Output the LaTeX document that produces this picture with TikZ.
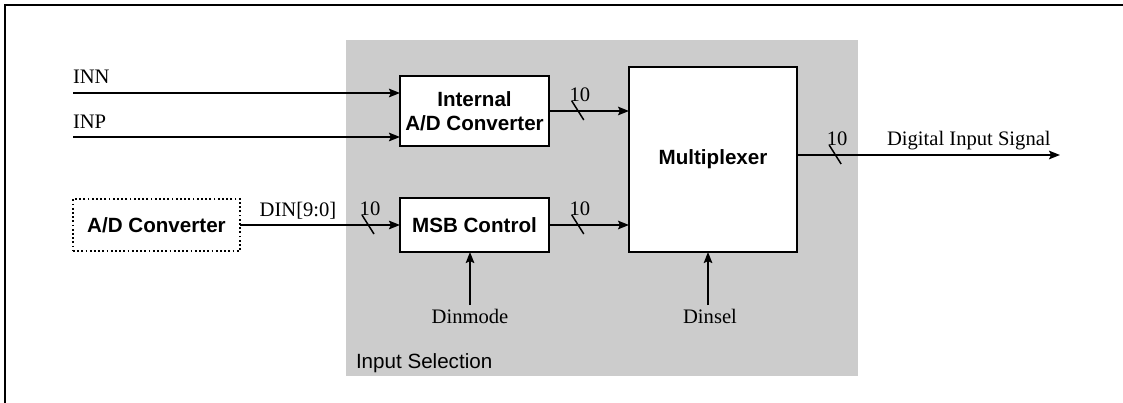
\documentclass[tikz,border=0pt]{standalone}
\usepackage{fontspec}
\setmainfont{Liberation Serif}
\setsansfont{Liberation Sans}
\usetikzlibrary{arrows.meta,calc}
\definecolor{panelgray}{HTML}{CCCCCC}
\begin{document}
\begin{tikzpicture}[x=1pt,y=-1pt,
  every node/.style={inner sep=0pt,outer sep=0pt},
  blk/.style={draw,line width=1.8pt,fill=white,rectangle,font=\sffamily\bfseries\fontsize{20.6}{24}\selectfont,align=center},
  lbl/.style={font=\rmfamily\fontsize{20.6}{24}\selectfont},
  sig/.style={line width=1.9pt,-{Stealth[length=11pt,width=8.5pt,inset=2pt]}},
  slashmark/.style={line width=1.5pt}]
\useasboundingbox (0,0) rectangle (1123,403);
% outer frame (only top and left edges visible)
\draw[line width=1.8pt] (5,403) -- (5,5) -- (1123,5);
% grey panel
\node[fill=panelgray,minimum width=512pt,minimum height=336pt,anchor=north west] (panel) at (346,40) {};
\node[anchor=base west,font=\sffamily\fontsize{20.6}{24}\selectfont] (sel) at (356,368) {Input Selection};
% blocks
\node[blk,minimum width=149pt,minimum height=70pt] (iad) at (474.5,111) {Internal\\A/D Converter};
\node[blk,minimum width=149pt,minimum height=54pt] (msb) at (474.5,225) {MSB Control};
\node[blk,minimum width=168pt,minimum height=185pt] (mux) at (713,159.5) {Multiplexer};
\node[blk,fill=none,line width=1.8pt,dash pattern=on 1.8pt off 2.4pt,minimum width=167pt,minimum height=52pt] (adc) at (156.5,225) {A/D Converter};
% inputs
\coordinate (inn) at (73,93);
\coordinate (inp) at (73,137);
\node[lbl,anchor=base west] (innl) at (73,84) {INN};
\node[lbl,anchor=base west] (inpl) at (73,129) {INP};
\draw[sig] (inn) -- (inn -| iad.west);
\draw[sig] (inp) -- (inp -| iad.west);
% DIN bus
\draw[sig] (adc.east) -- coordinate[pos=0.8] (s0) (adc.east -| msb.west);
\node[lbl,anchor=base] (dinl) at (298,217) {DIN[9:0]};
% internal ADC to mux
\draw[sig] (iad.east) -- coordinate[pos=0.36] (s1) (iad.east -| mux.west);
\draw[sig] (msb.east) -- coordinate[pos=0.36] (s2) (msb.east -| mux.west);
% output
\coordinate (out) at (1060,155);
\draw[sig] (mux.east |- out) -- coordinate[pos=0.145] (s3) (out);
\node[lbl,anchor=base west] (outl) at (887,146) {Digital Input Signal};
% bus width slashes and labels
\foreach \s in {s0,s1,s2,s3}{
  \draw[slashmark] ($(\s)+(-6,-10)$) -- ($(\s)+(6,9)$);
  \node[lbl,anchor=base] at ($(\s)+(2,-9)$) {10};
}
% control inputs
\coordinate (dm) at (470,305);
\coordinate (ds) at (708,305);
\draw[sig] (dm) -- (dm |- msb.south);
\draw[sig] (ds) -- (ds |- mux.south);
\node[lbl,anchor=base] (dml) at (470,323) {Dinmode};
\node[lbl,anchor=base] (dsl) at (710,323) {Dinsel};
\end{tikzpicture}
\end{document}
